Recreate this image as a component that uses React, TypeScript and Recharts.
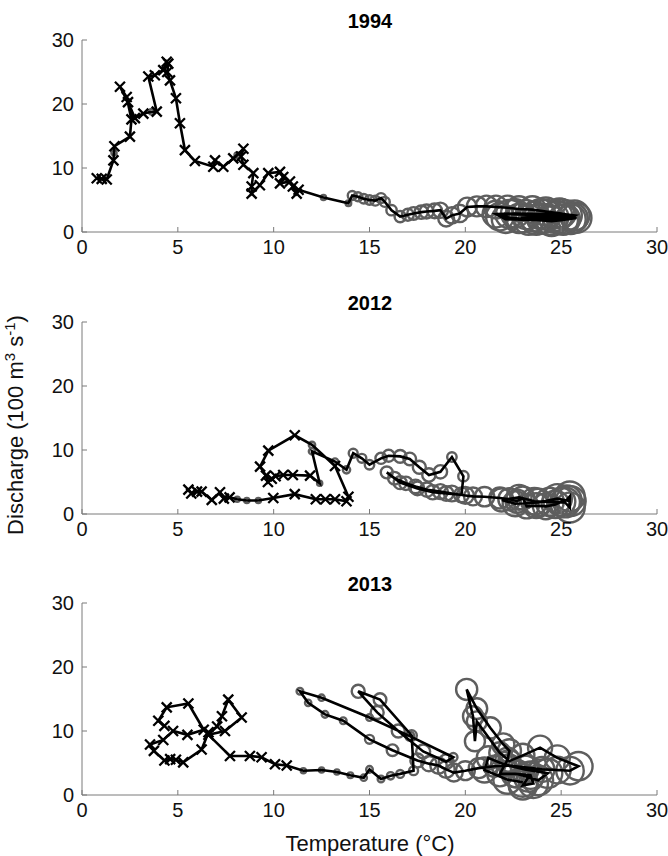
import React from 'react';
import { ScatterChart, Scatter, XAxis, YAxis, ZAxis } from 'recharts';

// each point: [water temperature (°C), discharge (100 m3/s), bubble size]
// bubble size 0 = drawn as a cross instead of a circle
type Pt = [number, number, number];

const xTicks = [0, 5, 10, 15, 20, 25, 30];
const yTicks = [0, 10, 20, 30];

const track1994: Pt[] = [
  [0.77, 8.4, 0], [1.03, 8.3, 0], [1.29, 8.2, 0], [1.64, 11.2, 0], [1.67, 12.4, 0.3], [1.69, 13.4, 0],
  [2.5, 14.9, 0], [2.58, 17.6, 0], [2.33, 21.1, 0], [1.98, 22.7, 0], [2.4, 20.3, 0], [2.76, 17.8, 0],
  [3.2, 18.5, 0], [3.64, 18.8, 0.35], [3.9, 18.8, 0], [3.46, 24.3, 0], [3.8, 24.5, 0], [4.24, 25.3, 0],
  [4.42, 26.6, 0], [4.5, 26.3, 0], [4.45, 25.0, 0], [4.59, 23.7, 0], [4.9, 20.9, 0], [5.11, 17.0, 0],
  [5.37, 12.8, 0], [5.89, 11.1, 0], [6.85, 10.2, 0], [6.94, 11.2, 0], [7.37, 10.2, 0], [7.89, 11.5, 0],
  [8.1, 12.0, 0.35], [8.42, 13.0, 0], [8.3, 11.8, 0], [8.42, 10.5, 0], [8.94, 9.2, 0], [8.85, 7.1, 0],
  [8.85, 6.0, 0], [9.28, 7.3, 0], [9.72, 9.2, 0], [10.33, 9.4, 0], [10.5, 8.6, 0], [10.33, 7.6, 0],
  [10.85, 7.9, 0], [11.0, 7.1, 0], [11.2, 6.0, 0], [11.3, 6.6, 0],
  [12.6, 5.4, 0.3], [13.9, 4.5, 0.35], [14.1, 5.7, 0.9], [14.4, 5.5, 0.9], [14.7, 5.2, 1.0],
  [15.0, 5.0, 1.0], [15.3, 4.9, 1.1], [15.6, 5.3, 1.1], [15.8, 4.7, 1.1], [16.15, 3.4, 1.2],
  [16.6, 2.4, 1.4], [17.0, 2.7, 1.6], [17.3, 2.9, 1.8], [17.7, 3.1, 2.0], [17.98, 3.2, 2.2],
  [18.4, 3.3, 2.4], [18.7, 3.4, 2.6], [19.0, 2.1, 2.8], [19.3, 2.6, 3.0], [19.7, 2.9, 3.4],
  [20.1, 3.9, 4.0], [20.6, 4.0, 4.5], [21.1, 4.0, 5.2], [21.6, 3.9, 5.8], [22.2, 3.8, 6.5],
  [22.8, 3.6, 7.2], [23.5, 3.5, 8.0], [24.2, 3.2, 8.8], [25.0, 2.9, 9.5], [25.8, 2.2, 10],
  [25.1, 1.9, 10], [24.5, 1.7, 10], [23.7, 1.9, 10], [22.8, 2.1, 9.5], [21.8, 2.4, 8.5],
  [22.3, 2.8, 9], [23.2, 2.7, 9.5], [24.2, 2.7, 10], [24.8, 2.5, 10], [25.3, 2.6, 10],
  [25.6, 2.2, 10], [24.6, 2.3, 10], [23.6, 2.4, 10], [22.9, 2.2, 9.5], [24.0, 2.1, 10],
  [25.2, 2.0, 10], [25.7, 2.6, 10], [24.9, 2.9, 10], [23.9, 2.8, 10], [22.6, 2.9, 9],
  [21.6, 2.8, 8], [22.1, 2.0, 8.5], [23.3, 1.9, 10], [24.4, 1.9, 10], [25.5, 2.0, 10],
];

const track2012: Pt[] = [
  [5.55, 3.8, 0], [5.7, 3.2, 0], [6.0, 3.5, 0], [6.24, 3.5, 0], [6.77, 2.2, 0], [7.2, 3.4, 0],
  [7.4, 2.4, 0], [7.7, 2.6, 0], [8.1, 2.3, 0.3], [8.6, 2.1, 0.3], [9.2, 2.1, 0.3], [9.98, 2.5, 0],
  [11.1, 3.1, 0], [12.2, 2.3, 0], [12.7, 2.3, 0], [13.2, 2.3, 0], [13.8, 2.0, 0], [13.9, 2.7, 0],
  [13.2, 7.5, 0], [12.0, 10.8, 0.45], [11.1, 12.3, 0], [9.72, 9.9, 0], [9.29, 7.4, 0], [9.6, 6.0, 0],
  [9.7, 5.0, 0], [9.9, 5.5, 0], [10.1, 5.9, 0], [10.5, 6.1, 0], [11.0, 6.1, 0], [11.9, 6.0, 0],
  [12.4, 4.8, 0.3], [12.0, 9.8, 0.45], [13.2, 8.2, 0.45], [13.8, 6.9, 0.6], [14.15, 9.5, 0.9],
  [14.6, 8.7, 0.9], [15.0, 7.7, 1.0], [15.6, 8.7, 1.4], [16.0, 9.1, 1.6], [16.6, 9.0, 1.8],
  [17.1, 8.6, 1.8], [17.6, 7.3, 1.9], [18.1, 6.1, 2.0], [18.7, 6.6, 2.0], [19.3, 8.9, 1.0],
  [19.9, 5.9, 1.2], [19.8, 3.0, 2.5], [19.0, 3.2, 2.4], [18.3, 3.4, 2.3], [17.5, 4.0, 2.1],
  [16.6, 4.9, 1.9], [15.9, 6.5, 1.6], [16.3, 5.6, 1.8], [16.9, 4.8, 2.0], [17.4, 4.3, 2.1],
  [18.0, 3.8, 2.3], [18.7, 3.5, 2.5], [19.3, 3.2, 2.8], [20.0, 2.9, 3.2], [20.4, 2.75, 3.6],
  [21.0, 2.7, 4.2], [21.8, 2.5, 5.0], [22.3, 2.3, 5.5], [22.7, 2.0, 6], [23.0, 2.5, 6],
  [23.2, 1.2, 6.5], [23.7, 1.3, 7], [24.2, 1.2, 7.5], [24.7, 1.5, 8.5], [25.0, 1.9, 9],
  [25.3, 2.2, 9.5], [25.45, 2.75, 10], [25.45, 1.0, 10], [25.2, 1.8, 10], [24.4, 1.9, 9],
  [23.6, 2.0, 8], [22.8, 2.6, 7], [21.9, 2.2, 6], [22.6, 1.6, 7], [23.8, 1.8, 8.5],
  [24.8, 2.4, 9.5], [25.5, 2.0, 10],
];

const track2013: Pt[] = [
  [4.3, 10.8, 0], [3.98, 11.6, 0], [4.42, 13.7, 0], [5.55, 14.3, 0], [6.35, 10.2, 0], [5.5, 9.4, 0],
  [4.75, 10.0, 0], [4.24, 8.6, 0], [3.55, 7.9, 0], [3.75, 6.9, 0], [4.3, 5.4, 0], [4.6, 5.6, 0],
  [4.9, 5.5, 0], [5.28, 5.1, 0], [6.24, 7.1, 0], [6.6, 9.8, 0], [7.05, 10.7, 0], [7.3, 12.3, 0],
  [7.63, 14.9, 0], [8.33, 12.1, 0], [7.46, 10.0, 0], [6.6, 9.4, 0], [7.72, 6.1, 0], [8.76, 6.1, 0],
  [9.37, 5.9, 0], [10.07, 4.8, 0], [10.68, 4.6, 0],
  [11.55, 3.8, 0.3], [12.5, 3.9, 0.3], [13.3, 3.6, 0.3], [14.0, 3.1, 0.35], [14.7, 2.7, 0.45],
  [15.0, 4.0, 0.5], [15.6, 2.5, 0.5], [16.1, 3.0, 0.6], [16.6, 3.3, 0.7], [17.3, 3.8, 0.9],
  [17.2, 9.3, 1.2], [15.55, 14.9, 1.8], [14.41, 16.2, 1.9], [15.4, 12.9, 1.9], [16.5, 10.0, 1.9],
  [17.8, 6.8, 2.2], [19.0, 5.2, 2.4], [19.37, 5.9, 0.8], [17.1, 9.2, 0.9], [15.0, 12.1, 0.5],
  [12.5, 15.2, 0.45], [11.37, 16.2, 0.5], [11.8, 14.4, 0.45], [12.68, 12.6, 0.5], [13.63, 11.6, 0.5],
  [15.0, 8.7, 0.9], [16.2, 7.0, 1.5], [17.5, 5.4, 2.2], [18.1, 4.9, 2.6], [18.6, 4.6, 3.0],
  [19.0, 4.0, 3.2], [19.4, 3.5, 3.5], [20.0, 3.8, 4.0], [20.7, 4.2, 4.5], [21.5, 4.5, 5],
  [22.3, 4.6, 5.5], [23.2, 4.3, 6.5], [24.0, 4.0, 7], [24.8, 3.9, 8], [25.46, 3.8, 8.5],
  [25.9, 4.5, 9], [24.8, 5.8, 7], [23.9, 7.4, 6.5], [23.0, 6.2, 6], [22.3, 5.3, 5.5], [21.8, 6.6, 5],
  [20.6, 11.5, 4.5], [20.5, 8.4, 4.5], [20.4, 12.3, 4.5], [20.07, 16.5, 5], [20.6, 13.5, 4.8],
  [21.3, 10.5, 5], [21.98, 7.9, 5.5], [22.3, 6.9, 6], [22.2, 5.5, 6.5], [21.8, 3.3, 7],
  [22.6, 3.3, 8], [23.4, 3.1, 8.5], [23.55, 1.8, 9.5], [23.0, 1.5, 9], [23.3, 2.8, 9.5],
  [22.7, 3.3, 8.5], [23.8, 2.3, 10], [24.3, 3.4, 9.5], [23.1, 4.0, 8.5], [22.0, 4.8, 7],
  [21.2, 5.8, 6], [21.0, 3.9, 7], [22.2, 2.4, 9], [23.0, 2.0, 9.5],
];

const panels = [
  { title: '1994', track: track1994, top: 0 },
  { title: '2012', track: track2012, top: 282 },
  { title: '2013', track: track2013, top: 563 },
];

const FONT = '"Liberation Sans", Arial, Helvetica, sans-serif';
const AXIS = '#7a7a7a';
const RING = '#5e5e5e';

const XTick = (p: any) => (
  <g>
    <line x1={p.x} y1={p.y} x2={p.x} y2={p.y - 5} stroke={AXIS} />
    <text x={p.x} y={p.y + 22} textAnchor="middle" fontSize={20} fill="#111" fontFamily={FONT}>
      {p.payload.value}
    </text>
  </g>
);

const YTick = (p: any) => (
  <g>
    <line x1={p.x} y1={p.y} x2={p.x + 5} y2={p.y} stroke={AXIS} />
    <text x={p.x - 8} y={p.y + 7} textAnchor="end" fontSize={20} fill="#111" fontFamily={FONT}>
      {p.payload.value}
    </text>
  </g>
);

const Ring = (p: any) => {
  const r = p.width ? p.width / 2 : Math.sqrt(Math.max(p.size || 0, 0) / Math.PI);
  return <circle cx={p.cx} cy={p.cy} r={r} fill="none" stroke={RING} strokeWidth={2.4} />;
};

const Cross = (p: any) => {
  const s = 5;
  const { cx, cy } = p;
  return (
    <path
      d={`M${cx - s},${cy - s}L${cx + s},${cy + s}M${cx - s},${cy + s}L${cx + s},${cy - s}`}
      stroke="#000"
      strokeWidth={2.3}
      fill="none"
    />
  );
};

const Empty = () => <g />;

function Panel({ track, top }: { track: Pt[]; top: number }) {
  const rows = track.map(([t, q, z]) => ({ t, q, z }));
  const rings = rows.filter(r => r.z > 0);
  const crosses = rows.filter(r => r.z === 0);
  return (
    <div style={{ position: 'absolute', left: 0, top }}>
      <ScatterChart width={668} height={270} margin={{ top: 40, right: 11, bottom: 8, left: 42 }}>
        <XAxis
          type="number"
          dataKey="t"
          domain={[0, 30]}
          ticks={xTicks}
          height={30}
          tickSize={0}
          tickMargin={0}
          tickLine={false}
          axisLine={{ stroke: AXIS }}
          tick={XTick}
          interval={0}
        />
        <YAxis
          type="number"
          dataKey="q"
          domain={[0, 30]}
          ticks={yTicks}
          width={40}
          tickSize={0}
          tickMargin={0}
          tickLine={false}
          axisLine={{ stroke: AXIS }}
          tick={YTick}
          interval={0}
        />
        <ZAxis type="number" dataKey="z" domain={[0, 10]} range={[0, 700]} />
        <Scatter data={rings} shape={Ring} isAnimationActive={false} />
        <Scatter data={rows} shape={Empty} line={{ stroke: '#000', strokeWidth: 2.6 }} isAnimationActive={false} />
        <Scatter data={crosses} shape={Cross} isAnimationActive={false} />
      </ScatterChart>
    </div>
  );
}

export default function App() {
  return (
    <div style={{ position: 'absolute', left: 0, top: 0, width: 668, height: 856, background: '#fff', fontFamily: FONT }}>
      {panels.map(p => (
        <Panel key={p.title} track={p.track} top={p.top} />
      ))}
      <svg width={668} height={856} style={{ position: 'absolute', left: 0, top: 0, pointerEvents: 'none' }}>
        {panels.map(p => (
          <text key={p.title} x={370} y={p.top + 28} textAnchor="middle" fontSize={20} fontWeight="bold" fill="#000" fontFamily={FONT}>
            {p.title}
          </text>
        ))}
        <text x={370} y={851} textAnchor="middle" fontSize={22} fill="#111" fontFamily={FONT}>
          Temperature (°C)
        </text>
        <text transform="translate(23,425) rotate(-90)" textAnchor="middle" fontSize={22} fill="#111" fontFamily={FONT}>
          Discharge (100 m<tspan dy={-8} fontSize={15}>3</tspan>
          <tspan dy={8}> s</tspan>
          <tspan dy={-8} fontSize={15}>-1</tspan>
          <tspan dy={8}>)</tspan>
        </text>
      </svg>
    </div>
  );
}
